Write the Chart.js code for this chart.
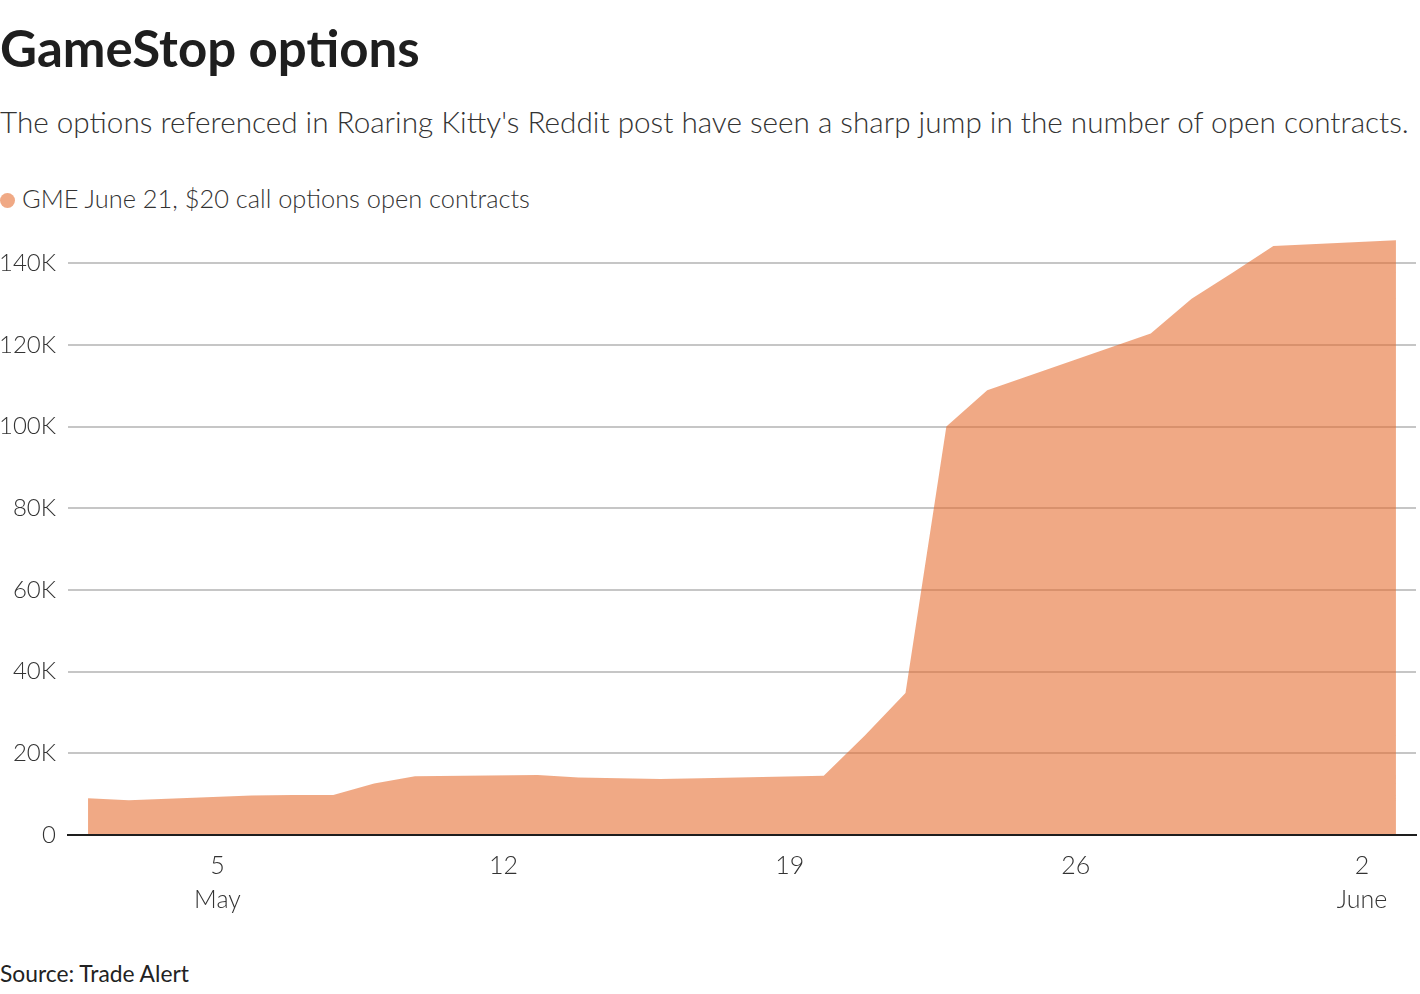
<!DOCTYPE html>
<html>
<head>
<meta charset="utf-8">
<script src="https://cdn.jsdelivr.net/npm/chart.js@4.4.1/dist/chart.umd.min.js"></script>
<style>
  html, body { margin:0; padding:0; background:#fff; width:1420px; height:994px; overflow:hidden; }
  body { font-family: Lato, "Noto Sans", sans-serif; color:#333; position:relative; }
  .txt { position:absolute; left:0; line-height:1; white-space:nowrap; }
  #title { top:22px; font-size:51px; font-weight:700; color:#1e1e1e; }
  #subtitle { top:107px; font-size:29.7px; font-weight:300; color:#333; }
  #legend { top:186px; font-size:25.4px; font-weight:300; color:#333; }
  #legend .dot { display:inline-block; width:15px; height:15px; border-radius:50%; background:#f0a985; margin-right:7px; vertical-align:0px; }
  #source { top:962px; font-size:22.8px; font-weight:400; color:#222; }
  #wrap { position:absolute; left:0; top:196px; width:1420px; height:729px; }
</style>
</head>
<body>
<div id="title" class="txt">GameStop options</div>
<div id="subtitle" class="txt">The options referenced in Roaring Kitty's Reddit post have seen a sharp jump in the number of open contracts.</div>
<div id="legend" class="txt"><span class="dot"></span>GME June 21, $20 call options open contracts</div>
<div id="source" class="txt">Source: Trade Alert</div>
<div id="wrap"><canvas id="c"></canvas></div>
<script>
// ---- data ----
const dates = [
  '2024-05-02','2024-05-03','2024-05-06','2024-05-07','2024-05-08','2024-05-09','2024-05-10',
  '2024-05-13','2024-05-14','2024-05-15','2024-05-16','2024-05-17',
  '2024-05-20','2024-05-21','2024-05-22','2024-05-23','2024-05-24',
  '2024-05-28','2024-05-29','2024-05-30','2024-05-31','2024-06-03'
];
const openContracts = [
  9000, 8500, 9700, 9800, 9800, 12600, 14400,
  14700, 14100, 13900, 13700, 13900,
  14500, 24300, 34800, 100000, 108900,
  122800, 131300, 137700, 144200, 145600
];
const seriesLabel = 'GME June 21, $20 call options open contracts';
const yTickValues = [0, 20000, 40000, 60000, 80000, 100000, 120000, 140000];
const xTickDates = ['2024-05-05','2024-05-12','2024-05-19','2024-05-26','2024-06-02'];
const xTickLabels = [['5','May'], ['12'], ['19'], ['26'], ['2','June']];

// ---- helpers ----
const MS_DAY = 86400000;
const base = Date.UTC(2024, 4, 1);
function dayNum(s) {
  const [y, m, d] = s.split('-').map(Number);
  return (Date.UTC(y, m - 1, d) - base) / MS_DAY + 1;
}
const tickShiftDays = 4 / 24;   // axis dates (local) vs data stamps (UTC)
const padDays = 0.49;

const points = dates.map((d, i) => ({ x: dayNum(d), y: openContracts[i] }));
const xMin = dayNum(dates[0]) - padDays;
const xMax = dayNum(dates[dates.length - 1]) + padDays;

const FONT = 'Lato, "Noto Sans", sans-serif';

new Chart(document.getElementById('c'), {
  type: 'line',
  data: {
    datasets: [{
      label: seriesLabel,
      data: points,
      fill: 'origin',
      backgroundColor: 'rgba(229,107,45,0.58)',
      borderWidth: 0,
      borderColor: 'rgba(0,0,0,0)',
      pointRadius: 0,
      pointHoverRadius: 0,
      tension: 0
    }]
  },
  options: {
    responsive: true,
    maintainAspectRatio: false,
    animation: false,
    layout: { padding: { top: 15, right: 4, left: 0, bottom: 0 } },
    plugins: { legend: { display: false }, tooltip: { enabled: false } },
    scales: {
      x: {
        type: 'linear',
        min: xMin,
        max: xMax,
        afterBuildTicks: (s) => { s.ticks = xTickDates.map(d => ({ value: dayNum(d) + tickShiftDays })); },
        afterFit: (s) => { s.height = 90; },
        grid: { display: false, drawTicks: false },
        border: { display: true, color: '#1e1e1e', width: 2, z: 1 },
        ticks: {
          autoSkip: false,
          maxRotation: 0,
          padding: 14,
          color: '#333',
          font: { family: FONT, size: 25, weight: '300', lineHeight: 1.36 },
          callback: (v, i) => xTickLabels[i]
        }
      },
      y: {
        min: 0,
        max: 150000,
        afterBuildTicks: (s) => { s.ticks = yTickValues.map(v => ({ value: v })); },
        afterFit: (s) => { s.width = 68; },
        grid: { color: '#c6c6c6', lineWidth: 2, drawTicks: false },
        border: { display: false },
        ticks: {
          padding: 12,
          color: '#333',
          font: { family: FONT, size: 24, weight: '300' },
          callback: (v) => v === 0 ? '0' : (v / 1000) + 'K'
        }
      }
    }
  }
});
</script>
</body>
</html>
